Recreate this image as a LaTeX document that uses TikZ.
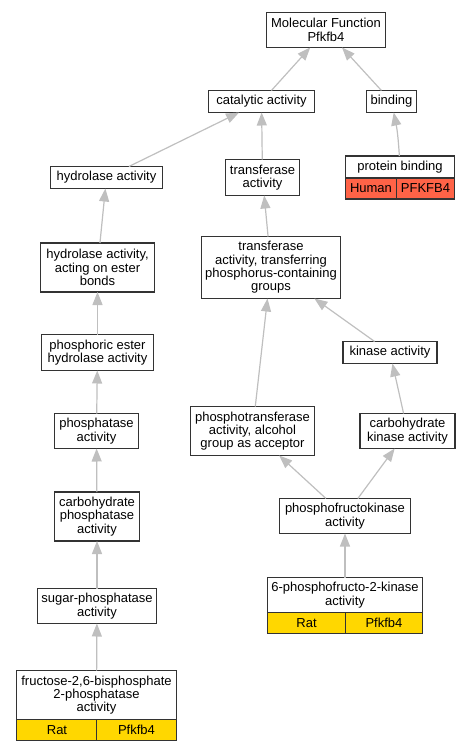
\documentclass[tikz,border=0pt]{standalone}
\usepackage{fontspec}
\setmainfont{Liberation Sans}
\usetikzlibrary{arrows.meta, positioning}
\definecolor{humanred}{HTML}{FF6347}
\definecolor{ratgold}{HTML}{FFD700}
\tikzset{
  term/.style={
    rectangle, draw=black!80, line width=1.4pt, fill=white,
    align=center, inner sep=1pt, outer sep=0pt
  },
  human/.style={
    term, fill=humanred, minimum height=21pt
  },
  rat/.style={
    term, fill=ratgold, minimum height=21pt
  },
  isa/.style={
    -{Triangle[length=13pt,width=10pt]}, line width=1.2pt, draw=gray!50
  }
}

\begin{document}
\begin{tikzpicture}[x=1pt, y=-1pt, every node/.style={font=\fontsize{13}{13.3}\selectfont}]
      \useasboundingbox (0,0) rectangle (471,752);

      % Root and first level
      \node[term, minimum width=119pt, minimum height=35pt] (mf) at (326,30) {Molecular Function\\Pfkfb4};
      \node[term, minimum width=106pt, minimum height=22pt] (cat) at (261.5,101.5) {catalytic activity};
      \node[term, minimum width=50pt, minimum height=22pt] (bind) at (391.5,101.5) {binding};

      % Annotated term (Human)
      \node[term, minimum width=109pt, minimum height=22pt] (pb) at (400,167) {protein binding};
      \node[human, anchor=north west, minimum width=51pt] (pb-sp) at (pb.south west) {Human};
      \node[human, anchor=north east, minimum width=58pt] (pb-gene) at (pb.south east) {PFKFB4};

      % Hydrolase branch
      \node[term, minimum width=112pt, minimum height=22pt] (hyd) at (106.5,177.5) {hydrolase activity};
      \node[term, minimum width=114pt, minimum height=49pt] (hyd-ester) at (97.5,267.5) {hydrolase activity,\\acting on ester\\bonds};
      \node[term, minimum width=112pt, minimum height=36pt] (phos-ester) at (97.5,352.5) {phosphoric ester\\hydrolase activity};
      \node[term, minimum width=84pt, minimum height=35pt] (phosphatase) at (96.5,431) {phosphatase\\activity};
      \node[term, minimum width=85pt, minimum height=49pt] (carb-phos) at (97,516.5) {carbohydrate\\phosphatase\\activity};
      \node[term, minimum width=119pt, minimum height=35pt] (sugar) at (97,606) {sugar-phosphatase\\activity};

      % Annotated term (Rat), left
      \node[term, minimum width=160pt, minimum height=49pt] (fbp) at (96.5,695) {fructose-2,6-bisphosphate\\2-phosphatase\\activity};
      \node[rat, anchor=north west, minimum width=81pt] (fbp-sp) at (fbp.south west) {Rat};
      \node[rat, anchor=north east, minimum width=80pt] (fbp-gene) at (fbp.south east) {Pfkfb4};

      % Transferase branch
      \node[term, minimum width=74pt, minimum height=36pt] (trans) at (262.5,177.5) {transferase\\activity};
      \node[term, minimum width=139pt, minimum height=62pt] (trans-p) at (271,267.5) {transferase\\activity, transferring\\phosphorus-containing\\groups};
      \node[term, minimum width=94pt, minimum height=22pt] (kinase) at (390,352.5) {kinase activity};
      \node[term, minimum width=124pt, minimum height=49pt] (ptrans) at (252.5,431) {phosphotransferase\\activity, alcohol\\group as acceptor};
      \node[term, minimum width=95pt, minimum height=35pt] (carb-kin) at (407.5,431) {carbohydrate\\kinase activity};
      \node[term, minimum width=131pt, minimum height=35pt] (pfk) at (345,516) {phosphofructokinase\\activity};

      % Annotated term (Rat), right
      \node[term, minimum width=155pt, minimum height=35pt] (pfk2) at (345,595) {6-phosphofructo-2-kinase\\activity};
      \node[rat, anchor=north west, minimum width=78pt] (pfk2-sp) at (pfk2.south west) {Rat};
      \node[rat, anchor=north east, minimum width=77pt] (pfk2-gene) at (pfk2.south east) {Pfkfb4};

      % is_a edges, child to parent
      \draw[isa] (cat) -- (mf);
      \draw[isa] (bind) -- (mf);
      \draw[isa] (pb) to[bend right=4] (bind);
      \draw[isa] (hyd) -- (cat);
      \draw[isa] (trans) -- (cat);
      \draw[isa] (hyd-ester) -- (hyd);
      \draw[isa] (phos-ester) -- (hyd-ester);
      \draw[isa] (phosphatase) -- (phos-ester);
      \draw[isa] (carb-phos) -- (phosphatase);
      \draw[isa] (sugar) -- (carb-phos);
      \draw[isa] (fbp) -- (sugar);
      \draw[isa] (trans-p) -- (trans);
      \draw[isa] (kinase) -- (trans-p);
      \draw[isa] (ptrans) -- (trans-p);
      \draw[isa] (carb-kin) -- (kinase);
      \draw[isa] (pfk) -- (ptrans);
      \draw[isa] (pfk) -- (carb-kin);
      \draw[isa] (pfk2) -- (pfk);
    \end{tikzpicture}
\end{document}
